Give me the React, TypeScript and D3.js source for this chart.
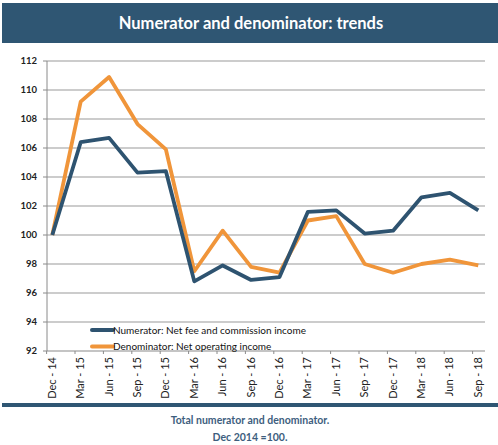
import React from "react";
import * as d3 from "d3";

const categories = ["Dec - 14","Mar - 15","Jun - 15","Sep - 15","Dec - 15","Mar - 16","Jun - 16","Sep - 16","Dec - 16","Mar - 17","Jun - 17","Sep - 17","Dec - 17","Mar - 18","Jun - 18","Sep - 18"];
const numerator = [100,106.4,106.7,104.3,104.4,96.8,97.9,96.9,97.1,101.6,101.7,100.1,100.3,102.6,102.9,101.7];
const denominator = [100,109.2,110.9,107.65,105.9,97.5,100.3,97.8,97.4,101.0,101.3,98.0,97.4,98.0,98.3,97.9];
const yTicks = [92,94,96,98,100,102,104,106,108,110,112];
const seriesNames = ["Numerator: Net fee and commission income","Denominator: Net operating income"];
const title = "Numerator and denominator: trends";
const footnotes = ["Total numerator and denominator.","Dec 2014 =100."];

const W = 498, H = 445;
const BLUE = "#2E5370";
const ORANGE = "#F0953A";
const BAND = "#2F5673";
const FONT = "Lato, 'Open Sans', sans-serif";

export default function App() {
  const x = d3.scalePoint<string>().domain(categories).range([52.3, 478.3]);
  const y = d3.scaleLinear().domain([92, 112]).range([351, 61]);
  const line = d3.line<number>().x((_, i) => x(categories[i]) as number).y(d => y(d));
  const axisLeft = 47, axisRight = 485;
  return (
    <svg width={W} height={H} style={{ position: "absolute", left: 0, top: 0, background: "#fff" }} fontFamily={FONT}>
      <rect x={2} y={3} width={496} height={40} fill={BAND} />
      <text x={251} y={29} textAnchor="middle" fill="#fff" fontWeight="bold" fontSize={16.5}>{title}</text>

      {yTicks.map(t => (
        <g key={t}>
          <line x1={axisLeft} x2={axisRight} y1={y(t)} y2={y(t)} stroke={t === 92 ? "#8a8a8a" : "#9a9a9a"} strokeWidth={1.2} />
          <line x1={axisLeft - 4} x2={axisLeft} y1={y(t)} y2={y(t)} stroke="#8a8a8a" strokeWidth={1} />
          <text x={37} y={y(t) + 3.3} textAnchor="end" fontSize={9.5} fontWeight="bold" fill="#222">{t}</text>
        </g>
      ))}
      <line x1={axisLeft} x2={axisLeft} y1={y(112)} y2={y(92)} stroke="#8a8a8a" strokeWidth={1} />
      {categories.map(c => (
        <g key={c}>
          <line x1={(x(c) as number) - 5.7} x2={(x(c) as number) - 5.7} y1={y(92)} y2={y(92) + 3} stroke="#8a8a8a" strokeWidth={1} />
          <text transform={`translate(${(x(c) as number) + 3.5},357) rotate(-90)`} textAnchor="end" fontSize={11} fill="#222">{c}</text>
        </g>
      ))}

      <path d={line(denominator) || ""} fill="none" stroke={ORANGE} strokeWidth={3.8} strokeLinejoin="round" />
      <path d={line(numerator) || ""} fill="none" stroke={BLUE} strokeWidth={3.8} strokeLinejoin="round" />

      <line x1={92} x2={113} y1={330} y2={330} stroke={BLUE} strokeWidth={4} strokeLinecap="round" />
      <text x={113} y={333.5} fontSize={10} fill="#111">{seriesNames[0]}</text>
      <line x1={92} x2={113} y1={346.5} y2={346.5} stroke={ORANGE} strokeWidth={4} strokeLinecap="round" />
      <text x={113} y={350} fontSize={10} fill="#111">{seriesNames[1]}</text>

      <rect x={2} y={403} width={496} height={4} fill={BAND} />
      <text x={250} y={424} textAnchor="middle" fontSize={10.5} fontWeight="bold" fill="#3D5E7E">{footnotes[0]}</text>
      <text x={250} y={441} textAnchor="middle" fontSize={10.5} fontWeight="bold" fill="#3D5E7E">{footnotes[1]}</text>
    </svg>
  );
}
